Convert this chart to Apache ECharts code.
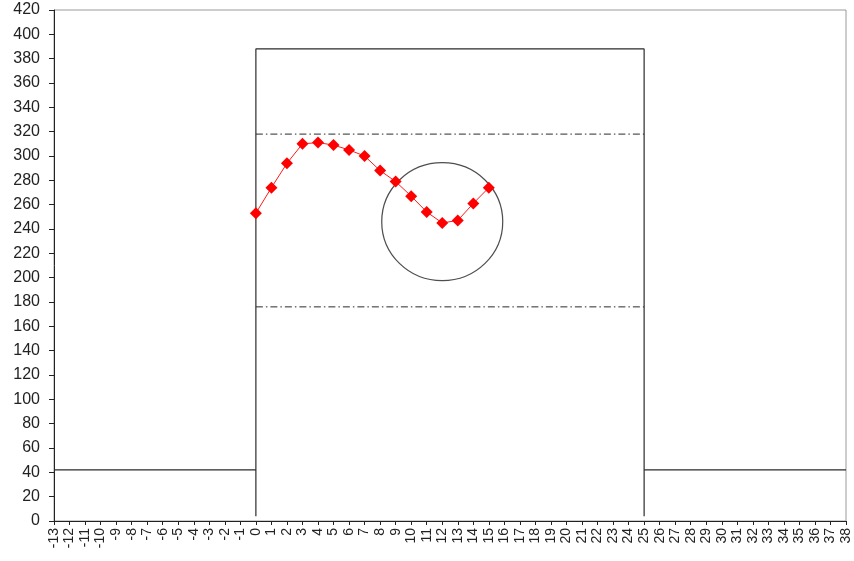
<!DOCTYPE html>
<html>
<head>
<meta charset="utf-8">
<script src="https://cdn.jsdelivr.net/npm/echarts@6/dist/echarts.min.js"></script>
<style>
  html, body { margin: 0; padding: 0; background: #fff; }
  #chart { width: 854px; height: 561px; }
</style>
</head>
<body>
<div id="chart"></div>
<script>
// Axis ranges
const xMin = -13, xMax = 38;
const yMin = 0, yMax = 420, yStep = 20;

// Measured values at x = 0 .. 15
const sampleX = [0, 1, 2, 3, 4, 5, 6, 7, 8, 9, 10, 11, 12, 13, 14, 15];
const sampleY = [253, 274, 294, 310, 311, 309, 305, 300, 288, 279, 267, 254, 245, 247, 261, 274];

// Baseline level outside the window and the window outline
const baseLevel = 42;
const windowStart = 0, windowEnd = 25;
const windowTop = 388, windowBottom = 4;

// Upper and lower limits (dash-dot)
const upperLimit = 318;
const lowerLimit = 176;

// Highlighted point (ring)
const ringCenter = [12, 246];

const lineColor = '#2b2b2b';

const chart = echarts.init(document.getElementById('chart'), null, { renderer: 'canvas' });

const samples = sampleX.map((x, i) => [x, sampleY[i]]);

chart.setOption({
  backgroundColor: '#fff',
  animation: false,
  grid: {
    left: 54, right: 8, top: 10, bottom: 40,
    show: true, borderColor: '#9a9a9a', borderWidth: 1
  },
  xAxis: {
    type: 'value', min: xMin, max: xMax, interval: 1,
    splitLine: { show: false },
    axisLine: { show: true, onZero: false, lineStyle: { color: '#222', width: 1 } },
    axisTick: { show: true, length: 4, lineStyle: { color: '#222' } },
    axisLabel: {
      rotate: 90, margin: 7, color: '#222',
      fontFamily: 'Liberation Sans, Arial, sans-serif', fontSize: 14,
      hideOverlap: false
    }
  },
  yAxis: {
    type: 'value', min: yMin, max: yMax, interval: yStep,
    splitLine: { show: false },
    axisLine: { show: true, onZero: false, lineStyle: { color: '#222', width: 1 } },
    axisTick: { show: true, length: 5, lineStyle: { color: '#222' } },
    axisLabel: {
      margin: 14, color: '#222',
      fontFamily: 'Liberation Sans, Arial, sans-serif', fontSize: 16
    }
  },
  series: [
    {
      type: 'line', symbol: 'none', silent: true,
      lineStyle: { color: lineColor, width: 1.2 },
      data: [[xMin, baseLevel], [windowStart, baseLevel]]
    },
    {
      type: 'line', symbol: 'none', silent: true,
      lineStyle: { color: lineColor, width: 1.2 },
      data: [[windowStart, windowBottom], [windowStart, windowTop],
             [windowEnd, windowTop], [windowEnd, windowBottom]]
    },
    {
      type: 'line', symbol: 'none', silent: true,
      lineStyle: { color: lineColor, width: 1.2 },
      data: [[windowEnd, baseLevel], [xMax, baseLevel]]
    },
    {
      type: 'line', symbol: 'none', silent: true,
      lineStyle: { color: lineColor, width: 1, type: [7, 3, 1.5, 3] },
      data: [[windowStart, upperLimit], [windowEnd, upperLimit]]
    },
    {
      type: 'line', symbol: 'none', silent: true,
      lineStyle: { color: lineColor, width: 1, type: [7, 3, 1.5, 3] },
      data: [[windowStart, lowerLimit], [windowEnd, lowerLimit]]
    },
    {
      type: 'scatter', silent: true,
      symbol: 'circle', symbolSize: [121, 118],
      itemStyle: { color: 'rgba(0,0,0,0)', borderColor: '#222', borderWidth: 1.2 },
      data: [ringCenter], z: 3
    },
    {
      type: 'line', silent: true,
      symbol: 'diamond', symbolSize: 12,
      lineStyle: { color: '#ff1a1a', width: 1 },
      itemStyle: { color: '#ff0000' },
      data: samples, z: 5
    }
  ]
});
</script>
</body>
</html>
